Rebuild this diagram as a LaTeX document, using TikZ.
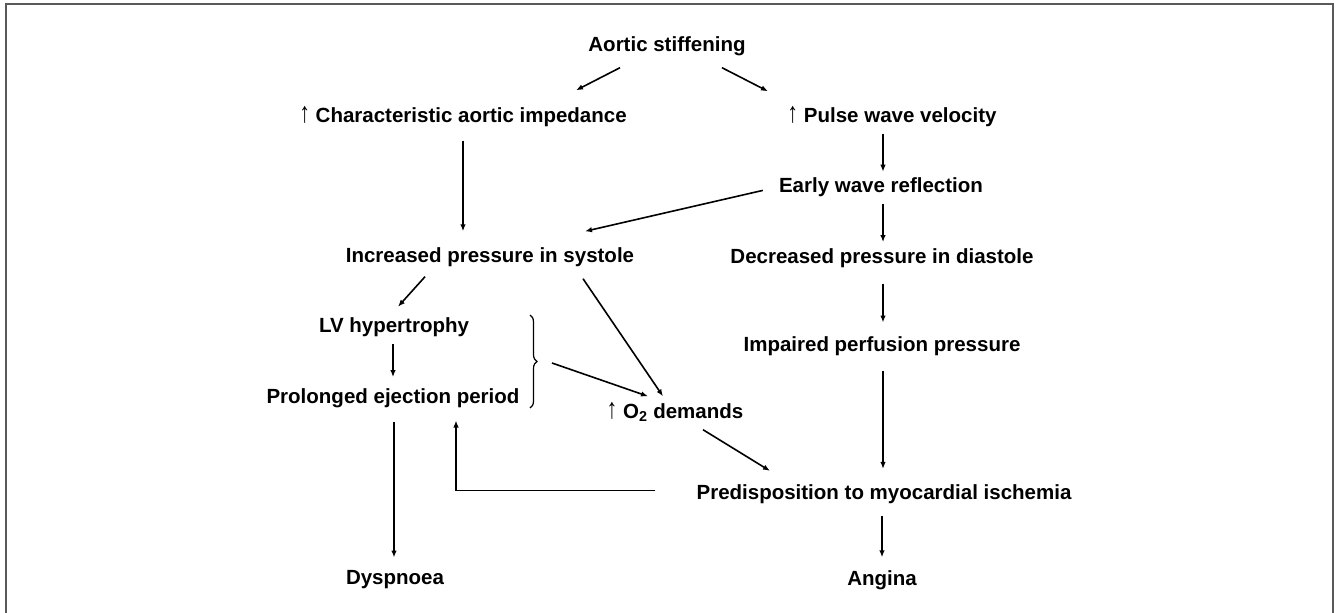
\documentclass[tikz,border=0pt]{standalone}
\usepackage{fontspec}
\setmainfont{Liberation Sans}
\usepackage{graphicx}
\usepackage{tikz}
\usetikzlibrary{arrows.meta,positioning,calc,decorations.pathreplacing}
\newcommand{\upar}{{\mdseries\scalebox{1.05}[1.4]{↑}}}

\begin{document}
\begin{tikzpicture}[
  x=1pt, y=-1pt,
  font=\fontsize{20.5}{24}\selectfont\bfseries,
  lbl/.style={inner sep=0pt, text height=15pt, text depth=4pt, anchor=center},
  flow/.style={-{Latex[length=7pt,width=5.5pt]}, line width=1.6pt},
  frame/.style={draw=black!65, line width=1.5pt}
]
\useasboundingbox (0,0) rectangle (1339,613);
\draw[frame] (6,613) -- (6,4) -- (1333,4) -- (1333,613);

% ---- top ----
\node[lbl] (aortic) at (667,46) {Aortic stiffening};
\node[lbl] (imp) at (463,117) {\upar\ Characteristic aortic impedance};
\node[lbl] (pwv) at (892,117) {\upar\ Pulse wave velocity};

% ---- right column ----
\node[lbl, below=51pt of pwv, xshift=-11pt] (ewr) {Early wave reflection};
\node[lbl, below=51pt of ewr, xshift=1pt] (dia) {Decreased pressure in diastole};
\node[lbl, below=69pt of dia] (ipp) {Impaired perfusion pressure};
\node[lbl, below=128pt of ipp, xshift=2pt] (pmi) {Predisposition to myocardial ischemia};
\node[lbl, below=67pt of pmi, xshift=-2pt] (ang) {Angina};

% ---- left column ----
\node[lbl] (sys) at (490,257) {Increased pressure in systole};
\node[lbl, below=51pt of sys, xshift=-96pt] (lvh) {LV hypertrophy};
\node[lbl, below=51pt of lvh, xshift=-1pt] (pep) {Prolonged ejection period};
\node[lbl, below=162pt of pep, xshift=2pt] (dys) {Dyspnoea};
\node[lbl] (o2) at (675,413) {\upar\ O\textsubscript{2} demands};

% brace round LVH and ejection period
\draw[line width=1.2pt, decorate, decoration={brace, amplitude=7pt}] (530,315) -- (530,408);
\coordinate (brc) at (538,362);

% edges
\draw[flow] ($(aortic.south)+(-47,12)$) -- ($(imp.north)+(113,-17)$);
\draw[flow] ($(aortic.south)+(55,12)$) -- ($(pwv.north)+(-124,-16)$);
\draw[flow] ($(imp.south)+(0,14)$) -- ($(sys.north)+(-27,-16)$);
\draw[flow] ($(pwv.south)+(-9,7)$) -- ($(ewr.north)+(2,-6)$);
\draw[flow] ($(ewr.west)+(-16,3)$) -- ($(sys.north)+(95,-16)$);
\draw[flow] ($(ewr.south)+(2,7)$) -- ($(dia.north)+(1,-6)$);
\draw[flow] ($(dia.south)+(1,16)$) -- ($(ipp.north)+(1,-14)$);
\draw[flow] ($(ipp.south)+(1,15)$) -- ($(pmi.north)+(-1,-15)$);
\draw[flow] ($(pmi.south)+(-2,13)$) -- ($(ang.north)+(0,-13)$);
\draw[flow] ($(sys.south)+(-65,10)$) -- ($(lvh.north)+(4,-11)$);
\draw[flow] ($(lvh.south)+(-1,7)$) -- ($(pep.north)+(0,-11)$);
\draw[flow] ($(sys.south)+(93,12)$) -- ($(o2.north)+(-12,-7)$);
\draw[flow] ($(brc)+(14,1)$) -- ($(o2.north)+(-27,-7)$);
\draw[flow] ($(o2.south)+(28,7)$) -- ($(pmi.north)+(-114,-13)$);
\draw[flow] ($(pep.south)+(1,14)$) -- ($(dys.north)+(-1,-12)$);
\draw[flow] ($(pmi.west)+(-41,-3)$) -| ($(pep.south)+(63,13)$);
\end{tikzpicture}
\end{document}
